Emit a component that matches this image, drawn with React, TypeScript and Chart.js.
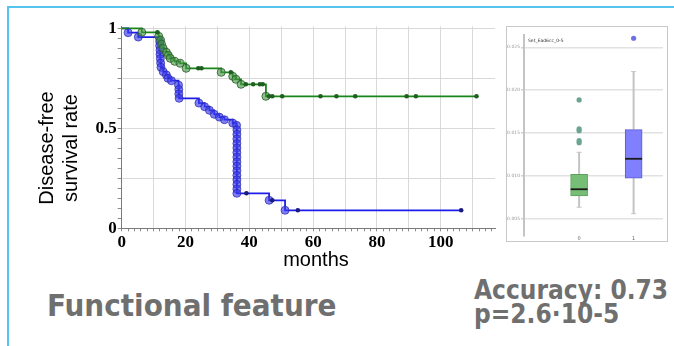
import React, { useEffect, useRef } from 'react';
import { Chart, registerables } from 'chart.js';
Chart.register(...registerables);

// ---------- Kaplan-Meier data ----------
const monthTicks = [0, 20, 40, 60, 80, 100];
const rateTicks = [0, 0.5, 1];

const greenEventMonths = [6.3, 11.6, 12.2, 12.5, 13.0, 14.0, 14.6, 15.2, 16.6, 18.3, 20.2, 31.2, 34.8, 35.8, 37.4, 45.2];
const greenEventRates = [0.98, 0.96, 0.94, 0.92, 0.9, 0.88, 0.865, 0.85, 0.835, 0.825, 0.8, 0.78, 0.76, 0.745, 0.72, 0.66];
const greenCensorMonths = [11.2, 24.0, 25.0, 34.2, 38.9, 41.2, 43.3, 44.2, 46.2, 47.2, 50.3, 62.3, 67.3, 73.2, 89.3, 92.2, 111.2];
const greenCensorRates = [0.98, 0.8, 0.8, 0.78, 0.72, 0.72, 0.72, 0.72, 0.66, 0.66, 0.66, 0.66, 0.66, 0.66, 0.66, 0.66, 0.66];

const blueEventMonths = [2.0, 5.2, 11.9, 11.9, 12.0, 12.0, 12.1, 12.2, 12.3, 13.0, 14.0, 14.5, 15.6, 17.8, 17.9, 17.9, 18.0,
  24.2, 26.0, 27.5, 29.0, 30.6, 32.2, 34.8, 36.0,
  36.1, 36.1, 36.1, 36.1, 36.1, 36.1, 36.1, 36.1, 36.1, 36.1, 36.1, 36.1, 36.1, 36.1, 36.1, 46.2, 51.2];
const blueEventRates = [0.978, 0.956, 0.935, 0.913, 0.891, 0.87, 0.848, 0.826, 0.805, 0.783, 0.767, 0.75, 0.738, 0.716, 0.694, 0.672, 0.65,
  0.626, 0.608, 0.59, 0.57, 0.556, 0.543, 0.526, 0.515,
  0.492, 0.47, 0.447, 0.424, 0.402, 0.379, 0.356, 0.333, 0.311, 0.288, 0.265, 0.243, 0.22, 0.197, 0.175, 0.14, 0.09];
const blueCensorMonths = [39.1, 47.2, 55.2, 106.4];
const blueCensorRates = [0.175, 0.14, 0.09, 0.09];

// ---------- Box plot data ----------
const boxGroups = [0, 1];
const boxMin = [0.00635, 0.0056];
const boxQ1 = [0.00767, 0.00975];
const boxMedian = [0.00845, 0.012];
const boxQ3 = [0.0102, 0.0154];
const boxMax = [0.01276, 0.02216];
const outlierGroups = [0, 0, 0, 0, 0, 1];
const outlierValues = [0.01886, 0.01548, 0.01528, 0.01411, 0.01388, 0.02605];
const insetTicks = [0.005, 0.01, 0.015, 0.02, 0.025];
const insetTitle = 'Set_Ead6cc_0-5';

const isMult = (v: number, m: number) => {
  const r = v / m;
  return Math.abs(r - Math.round(r)) < 1e-6;
};

const pts = (xs: number[], ys: number[]) => xs.map((x, i) => ({ x, y: ys[i] }));

function KMChart() {
  const ref = useRef<HTMLCanvasElement>(null);
  useEffect(() => {
    const greenLine = [{ x: 0, y: 1 }, ...pts(greenEventMonths, greenEventRates), pts(greenCensorMonths, greenCensorRates)[greenCensorMonths.length - 1]];
    const blueLine = [{ x: 0, y: 1 }, ...pts(blueEventMonths, blueEventRates), pts(blueCensorMonths, blueCensorRates)[blueCensorMonths.length - 1]];
    const chart = new Chart(ref.current!, {
      type: 'scatter',
      data: {
        datasets: [
          { data: pts(greenCensorMonths, greenCensorRates), pointRadius: 2.3, pointBackgroundColor: '#1f5f1f', pointBorderWidth: 0, order: 1 } as any,
          { data: pts(blueCensorMonths, blueCensorRates), pointRadius: 2.3, pointBackgroundColor: '#1a1a80', pointBorderWidth: 0, order: 1 } as any,
          { data: pts(greenEventMonths, greenEventRates), pointRadius: 4, pointBackgroundColor: 'rgba(70,150,70,0.6)', pointBorderColor: 'rgba(40,90,40,0.8)', pointBorderWidth: 1, order: 2 } as any,
          { data: pts(blueEventMonths, blueEventRates), pointRadius: 4, pointBackgroundColor: 'rgba(60,60,240,0.65)', pointBorderColor: 'rgba(40,40,170,0.7)', pointBorderWidth: 1, order: 2 } as any,
          { data: greenLine, showLine: true, stepped: 'before', borderColor: 'rgb(25,135,25)', borderWidth: 1.8, pointRadius: 0, order: 3 } as any,
          { data: blueLine, showLine: true, stepped: 'before', borderColor: 'rgb(30,30,235)', borderWidth: 1.8, pointRadius: 0, order: 3 } as any,
        ],
      },
      options: {
        animation: false,
        responsive: false,
        maintainAspectRatio: false,
        layout: { padding: { top: 26.3, right: 2.7, left: 0, bottom: 0 } },
        plugins: { legend: { display: false }, tooltip: { enabled: false } },
        scales: {
          x: {
            type: 'linear', min: 0, max: 117,
            afterFit: (s: any) => { s.height = 21.7; },
            border: { color: '#7a7a7a', width: 1 },
            grid: {
              color: (c: any) => (c.tick && c.tick.value > 0 && isMult(c.tick.value, 10) ? '#d9d9d9' : 'rgba(0,0,0,0)'),
              tickColor: '#8a8a8a', tickLength: 3, lineWidth: 1,
            },
            ticks: {
              stepSize: 2, includeBounds: false, autoSkip: false, maxRotation: 0, padding: 1, color: '#000',
              font: { family: '"Liberation Serif", serif', size: 17, weight: 'bold' },
              callback: (v: any) => (monthTicks.some((t) => Math.abs(t - v) < 1e-6) ? String(Math.round(v)) : ''),
            },
          },
          y: {
            type: 'linear', min: 0, max: 1.01,
            afterFit: (s: any) => { s.width = 121.7; },
            border: { color: '#7a7a7a', width: 1 },
            grid: {
              color: (c: any) => (c.tick && c.tick.value > 0.01 && isMult(c.tick.value, 0.25) ? '#d9d9d9' : 'rgba(0,0,0,0)'),
              tickColor: '#8a8a8a', tickLength: 4, lineWidth: 1,
            },
            ticks: {
              stepSize: 0.05, includeBounds: false, autoSkip: false, padding: 1, color: '#000',
              font: { family: '"Liberation Serif", serif', size: 17, weight: 'bold' },
              callback: (v: any) => (rateTicks.some((t) => Math.abs(t - v) < 1e-6) ? String(Math.round(v * 10) / 10) : ''),
            },
          },
        },
      } as any,
    });
    return () => chart.destroy();
  }, []);
  return <canvas ref={ref} width={500} height={250} style={{ position: 'absolute', left: 0, top: 0, width: 500, height: 250 }} />;
}

const boxPlugin = {
  id: 'boxParts',
  beforeDatasetsDraw(chart: any) {
    const { ctx, scales } = chart;
    const xs = scales.x, ys = scales.y;
    ctx.save();
    ctx.strokeStyle = '#c4c4c4';
    boxGroups.forEach((g, i) => {
      const x = xs.getPixelForValue(g);
      ctx.lineWidth = 2;
      ctx.beginPath();
      ctx.moveTo(x, ys.getPixelForValue(boxMax[i]));
      ctx.lineTo(x, ys.getPixelForValue(boxQ3[i]));
      ctx.moveTo(x, ys.getPixelForValue(boxQ1[i]));
      ctx.lineTo(x, ys.getPixelForValue(boxMin[i]));
      ctx.stroke();
      ctx.lineWidth = 1;
      ctx.beginPath();
      ctx.moveTo(x - 2.5, ys.getPixelForValue(boxMax[i]));
      ctx.lineTo(x + 2.5, ys.getPixelForValue(boxMax[i]));
      ctx.moveTo(x - 2.5, ys.getPixelForValue(boxMin[i]));
      ctx.lineTo(x + 2.5, ys.getPixelForValue(boxMin[i]));
      ctx.stroke();
    });
    ctx.restore();
  },
  afterDatasetsDraw(chart: any) {
    const { ctx, scales, chartArea } = chart;
    const xs = scales.x, ys = scales.y;
    ctx.save();
    ctx.strokeStyle = '#1a1a1a';
    ctx.lineWidth = 1.8;
    boxGroups.forEach((g, i) => {
      const x = xs.getPixelForValue(g);
      const y = ys.getPixelForValue(boxMedian[i]);
      ctx.beginPath();
      ctx.moveTo(x - 8.5, y);
      ctx.lineTo(x + 8.5, y);
      ctx.stroke();
    });
    ctx.fillStyle = '#333';
    ctx.font = '4.5px "DejaVu Sans", sans-serif';
    ctx.textBaseline = 'middle';
    ctx.fillText(insetTitle, chartArea.left + 4, chartArea.top + 6);
    ctx.restore();
  },
};

function BoxChart() {
  const ref = useRef<HTMLCanvasElement>(null);
  useEffect(() => {
    const chart = new Chart(ref.current!, {
      type: 'bar',
      data: {
        datasets: [
          {
            type: 'bar',
            data: boxGroups.map((g, i) => ({ x: g, y: [boxQ1[i], boxQ3[i]] })),
            backgroundColor: ['rgba(118,190,118,1)', 'rgba(128,128,255,1)'],
            borderColor: ['#5f9f5f', '#5a5ad0'],
            borderWidth: 1,
            borderSkipped: false,
            barThickness: 17,
            order: 2,
          } as any,
          {
            type: 'scatter',
            data: outlierGroups.map((g, i) => ({ x: g, y: outlierValues[i] })),
            pointRadius: 2.6,
            pointBackgroundColor: outlierGroups.map((g) => (g === 0 ? '#6aa58f' : '#7070e6')),
            pointBorderWidth: 0,
            order: 1,
          } as any,
        ],
      },
      options: {
        animation: false,
        responsive: false,
        maintainAspectRatio: false,
        layout: { padding: { top: 8, right: 1, left: 0, bottom: 0 } },
        plugins: { legend: { display: false }, tooltip: { enabled: false } },
        scales: {
          x: {
            type: 'linear', min: -1.011, max: 1.539, offset: false,
            afterFit: (s: any) => { s.height = 5; },
            grid: { display: false, drawTicks: false },
            border: { display: false },
            ticks: {
              stepSize: 1, includeBounds: false, autoSkip: false, maxRotation: 0, padding: 0, color: '#666',
              font: { family: '"DejaVu Sans", sans-serif', size: 5 },
              callback: (v: any) => (boxGroups.includes(v) ? String(v) : ''),
            },
          },
          y: {
            type: 'linear', min: 0.003, max: 0.02643,
            afterFit: (s: any) => { s.width = 17; },
            border: { color: '#c4c4c4', width: 2 },
            grid: {
              color: (c: any) => (c.tick && insetTicks.some((t) => Math.abs(t - c.tick.value) < 1e-9) ? '#e2e2e2' : 'rgba(0,0,0,0)'),
              lineWidth: 1.5, tickLength: 3,
              tickColor: (c: any) => (c.tick && insetTicks.some((t) => Math.abs(t - c.tick.value) < 1e-9) ? '#d0d0d0' : 'rgba(0,0,0,0)'),
            },
            ticks: {
              stepSize: 0.005, includeBounds: false, autoSkip: false, padding: 1, color: '#999',
              font: { family: '"DejaVu Sans", sans-serif', size: 4.5 },
              callback: (v: any) => (insetTicks.some((t) => Math.abs(t - v) < 1e-9) ? Number(v).toFixed(3) : ''),
            },
          },
        },
      } as any,
      plugins: [boxPlugin],
    });
    return () => chart.destroy();
  }, []);
  return (
    <div style={{ position: 'absolute', left: 506, top: 26, width: 160, height: 214, border: '1px solid #c8c8c8', background: '#fff' }}>
      <canvas ref={ref} width={160} height={214} style={{ display: 'block', width: 160, height: 214 }} />
    </div>
  );
}

const bigText: React.CSSProperties = {
  position: 'absolute',
  fontFamily: '"DejaVu Sans Condensed", "DejaVu Sans", sans-serif',
  fontStretch: 'condensed',
  fontWeight: 'bold',
  color: '#6f6f6f',
  lineHeight: 1,
  whiteSpace: 'nowrap',
  margin: 0,
};

export default function App() {
  return (
    <div style={{ position: 'absolute', left: 0, top: 0, width: 674, height: 346, background: '#fff', overflow: 'hidden' }}>
      <div style={{ position: 'absolute', left: 7, top: 6, width: 667, height: 2, background: '#55c4ef' }} />
      <div style={{ position: 'absolute', left: 7, top: 6, width: 2, height: 340, background: '#55c4ef' }} />
      <KMChart />
      <div
        style={{
          position: 'absolute', left: -42, top: 124, width: 200, height: 48, transform: 'rotate(-90deg)',
          fontFamily: '"Liberation Sans", Arial, sans-serif', fontSize: 20, lineHeight: '24px', textAlign: 'center', color: '#000',
        }}
      >
        <div>Disease-free</div>
        <div>survival rate</div>
      </div>
      <div style={{ position: 'absolute', left: 216, top: 249, width: 200, textAlign: 'center', fontFamily: '"Liberation Sans", Arial, sans-serif', fontSize: 20, lineHeight: 1, color: '#000' }}>
        months
      </div>
      <BoxChart />
      <div style={{ ...bigText, left: 47, top: 290, fontSize: 31 }}>Functional feature</div>
      <div style={{ ...bigText, left: 474, top: 277, fontSize: 26 }}>Accuracy: 0.73</div>
      <div style={{ ...bigText, left: 474, top: 301, fontSize: 26 }}>p=2.6·10-5</div>
    </div>
  );
}
